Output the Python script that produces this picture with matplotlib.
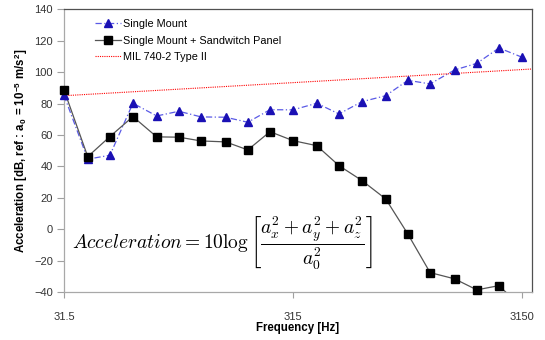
import numpy as np
import matplotlib
matplotlib.use("Agg")
import matplotlib.pyplot as plt
from matplotlib.legend_handler import HandlerTuple

plt.rcParams['font.family'] = ['Liberation Sans', 'DejaVu Sans']
plt.rcParams['mathtext.fontset'] = 'cm'

# third octave band centres [Hz]
freqs = [31.5, 40, 50, 63, 80, 100, 125, 160, 200, 250, 315, 400, 500,
         630, 800, 1000, 1250, 1600, 2000, 2500, 3150]
single_mount = [85.3, 44.6, 47.1, 80.2, 72.1, 75.1, 71.5, 71.3, 68.1, 76.1, 76.0,
                80.2, 73.4, 81.2, 85.0, 94.8, 92.5, 101.4, 105.6, 115.4, 109.5]
sandwich = [88.7, 46.2, 59.0, 71.7, 58.8, 58.6, 56.2, 55.6, 50.5, 62.1, 56.4,
            53.2, 40.5, 31.0, 19.3, -3.1, -27.6, -31.6, -38.6, -35.9, -50.0]
# MIL limit line (straight on the log axis)
mil_freqs = [31.5, 3480]
mil_vals = [85.0, 102.0]

xticks = [31.5, 315, 3150]
xtick_labels = ['31.5', '315', '3150']
yticks = list(range(-40, 141, 20))

fig = plt.figure(figsize=(5.45, 3.4), dpi=100)
ax = fig.add_axes([0.1174, 0.141, 0.8586, 0.8316])

blue_line = '#5a5ae6'
blue_mark = '#1a10b4'

# lines are clipped to the axes, markers are not (like excel)
l1, = ax.plot(freqs, single_mount, color=blue_line, lw=0.9, ls=(0, (5, 2, 1, 2)))
l2, = ax.plot(freqs, sandwich, color='#555555', lw=0.9)
s = np.array(single_mount)
w = np.array(sandwich)
f = np.array(freqs)
m1, = ax.plot(f[s >= -40], s[s >= -40], ls='none', marker='^', ms=6,
              color=blue_mark, clip_on=False, zorder=3)
inside = w >= -40
m2, = ax.plot(f[inside], w[inside], ls='none', marker='s', ms=6.3,
              color='black', clip_on=False, zorder=3)
l3, = ax.plot(mil_freqs, mil_vals, color='red', lw=0.8, ls=(0, (1, 1)))

ax.set_xscale('log')
ax.set_xlim(31.5, 3480)
ax.set_ylim(-40, 140)
ax.set_xticks(xticks)
ax.set_xticklabels(xtick_labels)
ax.xaxis.set_minor_locator(matplotlib.ticker.NullLocator())
ax.set_yticks(yticks)
ax.tick_params(axis='y', direction='out', length=5, width=0.8, color='#a0a0a0',
               labelsize=8, labelcolor='#333333', pad=3)
ax.tick_params(axis='x', direction='out', length=4, width=0.8, color='#a0a0a0',
               labelsize=8, labelcolor='#333333', pad=10)

for side in ['left', 'bottom']:
    ax.spines[side].set_color('#a8a8a8')
for side in ['top', 'right']:
    ax.spines[side].set_color('#505050')
for sp in ax.spines.values():
    sp.set_linewidth(0.9)

ax.set_xlabel('Frequency [Hz]', fontsize=8.3, fontweight='bold', labelpad=0)
ax.set_ylabel('Acceleration [dB, ref : a$_\\mathregular{0}$ = 10$^\\mathregular{-5}$ m/s$^\\mathregular{2}$]',
              fontsize=8.3, fontweight='bold', labelpad=3)

ax.legend([(l1, m1), (l2, m2), l3],
          ['Single Mount', 'Single Mount + Sandwitch Panel', 'MIL 740-2 Type II'],
          handler_map={tuple: HandlerTuple(ndivide=1)},
          loc='upper left', bbox_to_anchor=(0.045, 1.0), frameon=False,
          fontsize=7.8, handlelength=2.4, handletextpad=0.2, labelspacing=0.6,
          numpoints=1)

ax.text(0.017, 0.172,
        r'$Acceleration = 10\log\left[\dfrac{a_x^2 + a_y^2 + a_z^2}{a_0^2}\right]$',
        transform=ax.transAxes, fontsize=14, va='center', ha='left')

fig.savefig('out.png', dpi=100)
